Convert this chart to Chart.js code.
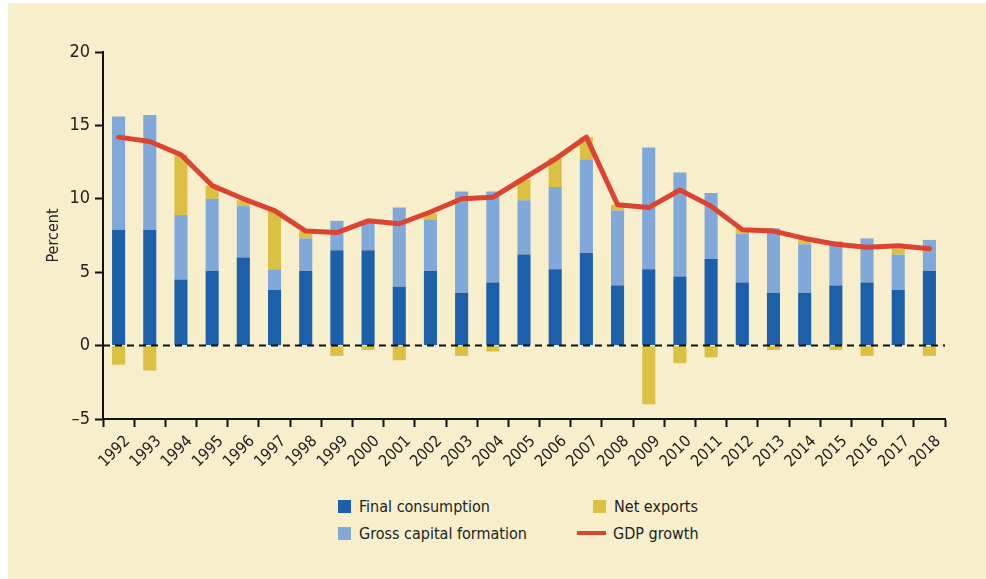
<!DOCTYPE html>
<html>
<head>
<meta charset="utf-8">
<script src="https://cdn.jsdelivr.net/npm/chart.js@4.4.1/dist/chart.umd.min.js"></script>
<style>
    html, body { margin: 0; padding: 0; background: #ffffff; }
    #panel {
        position: absolute; left: 8px; top: 3px; width: 978px; height: 576px;
        background: #f7efcb;
    }
    #wrap { position: absolute; left: 0; top: 0; width: 986px; height: 470px; }
    .legend {
        position: absolute; left: 338px; top: 496px; width: 440px;
        display: grid; grid-template-columns: 255px 180px; row-gap: 7px;
        font-family: 'Liberation Sans Narrow', 'DejaVu Sans Condensed', sans-serif;
        font-size: 16px; color: #222;
    }
    .legend .item { display: flex; align-items: center; height: 20px; }
    .legend .sw { width: 13px; height: 13px; margin-right: 8px; }
    .legend .ln { width: 29px; height: 4px; margin-right: 7px; margin-left: -16px; }
</style>
</head>
<body>
<div id="panel"></div>
<div id="wrap"><canvas id="grafico" width="986" height="470"></canvas></div>
<div class="legend" id="leyenda"></div>

<script>
// Datos
const years = ['1992','1993','1994','1995','1996','1997','1998','1999','2000','2001','2002','2003','2004',
    '2005','2006','2007','2008','2009','2010','2011','2012','2013','2014','2015','2016','2017','2018'];
const finalConsumption = [7.9, 7.9, 4.5, 5.1, 6.0, 3.8, 5.1, 6.5, 6.5, 4.0, 5.1, 3.6, 4.3,
    6.2, 5.2, 6.3, 4.1, 5.2, 4.7, 5.9, 4.3, 3.6, 3.6, 4.1, 4.3, 3.8, 5.1];
const grossCapital = [7.7, 7.8, 4.4, 4.9, 3.5, 1.4, 2.2, 2.0, 2.0, 5.4, 3.5, 6.9, 6.2,
    3.7, 5.6, 6.4, 5.1, 8.3, 7.1, 4.5, 3.3, 4.4, 3.3, 3.0, 3.0, 2.4, 2.1];
const netExports = [-1.3, -1.7, 4.1, 0.9, 0.4, 4.0, 0.5, -0.7, -0.3, -1.0, 0.4, -0.7, -0.4,
    1.4, 2.0, 1.5, 0.4, -4.0, -1.2, -0.8, 0.4, -0.3, 0.4, -0.3, -0.7, 0.4, -0.7];
const gdpGrowth = [14.2, 13.9, 13.0, 10.9, 10.0, 9.2, 7.8, 7.7, 8.5, 8.3, 9.1, 10.0, 10.1,
    11.4, 12.7, 14.2, 9.6, 9.4, 10.6, 9.5, 7.9, 7.8, 7.3, 6.9, 6.7, 6.8, 6.6];
const yTicks = [-5, 0, 5, 10, 15, 20];

const fuente = "'Liberation Sans Narrow', 'DejaVu Sans Condensed', sans-serif";

// Línea discontinua en cero
const lineaCero = {
    id: 'lineaCero',
    afterDatasetsDraw(chart) {
        const {ctx, chartArea, scales} = chart;
        const y = scales.y.getPixelForValue(0);
        ctx.save();
        ctx.strokeStyle = '#111';
        ctx.lineWidth = 2;
        ctx.setLineDash([7, 5]);
        ctx.beginPath();
        ctx.moveTo(chartArea.left, y);
        ctx.lineTo(chartArea.right, y);
        ctx.stroke();
        ctx.restore();
    }
};

const datasets = [
    { type: 'line', label: 'GDP growth', data: gdpGrowth, borderColor: '#dc4431', backgroundColor: '#dc4431',
      borderWidth: 5, pointRadius: 0, tension: 0, borderJoinStyle: 'round', borderCapStyle: 'round', order: 0 },
    { label: 'Final consumption', data: finalConsumption, backgroundColor: '#1c5fab', order: 1, stack: 's' },
    { label: 'Gross capital formation', data: grossCapital, backgroundColor: '#80a9da', order: 1, stack: 's' },
    { label: 'Net exports', data: netExports, backgroundColor: '#dcc043', order: 1, stack: 's' }
];

new Chart(document.getElementById('grafico'), {
    type: 'bar',
    data: { labels: years, datasets: datasets },
    options: {
        responsive: false,
        animation: false,
        layout: { padding: { left: 0, right: 41, top: 52, bottom: 0 } },
        datasets: { bar: { barPercentage: 0.42, categoryPercentage: 1 } },
        plugins: { legend: { display: false }, tooltip: { enabled: false } },
        scales: {
            x: {
                stacked: true,
                afterFit: (s) => { s.height = 51; },
                grid: { drawOnChartArea: false, offset: true, color: '#111', tickLength: 8, tickWidth: 2 },
                border: { color: '#111', width: 2 },
                ticks: { color: '#222', font: { family: fuente, size: 16 }, minRotation: 45, maxRotation: 45,
                         labelOffset: 9, padding: 5, autoSkip: false }
            },
            y: {
                stacked: true,
                min: yTicks[0], max: yTicks[yTicks.length - 1],
                afterFit: (s) => { s.width = 103; },
                afterBuildTicks: (s) => { s.ticks = yTicks.map(v => ({ value: v })); },
                grid: { drawOnChartArea: false, color: '#111', tickLength: 8, tickWidth: 2 },
                border: { color: '#111', width: 2 },
                title: { display: true, text: 'Percent', color: '#222', font: { family: fuente, size: 16 },
                         padding: { top: 44, bottom: 0 } },
                ticks: { color: '#222', font: { family: fuente, size: 18 }, padding: 5,
                         callback: (v) => String(v).replace('-', '\u2013') }
            }
        }
    },
    plugins: [lineaCero]
});

// Leyenda HTML en dos columnas
const leyenda = document.getElementById('leyenda');
const ordenLeyenda = [datasets[1], datasets[3], datasets[2], datasets[0]];
ordenLeyenda.forEach(ds => {
    const item = document.createElement('div');
    item.className = 'item';
    const marca = document.createElement('span');
    marca.className = ds.type === 'line' ? 'ln' : 'sw';
    marca.style.background = ds.backgroundColor;
    item.appendChild(marca);
    item.appendChild(document.createTextNode(ds.label));
    leyenda.appendChild(item);
});
</script>
</body>
</html>
